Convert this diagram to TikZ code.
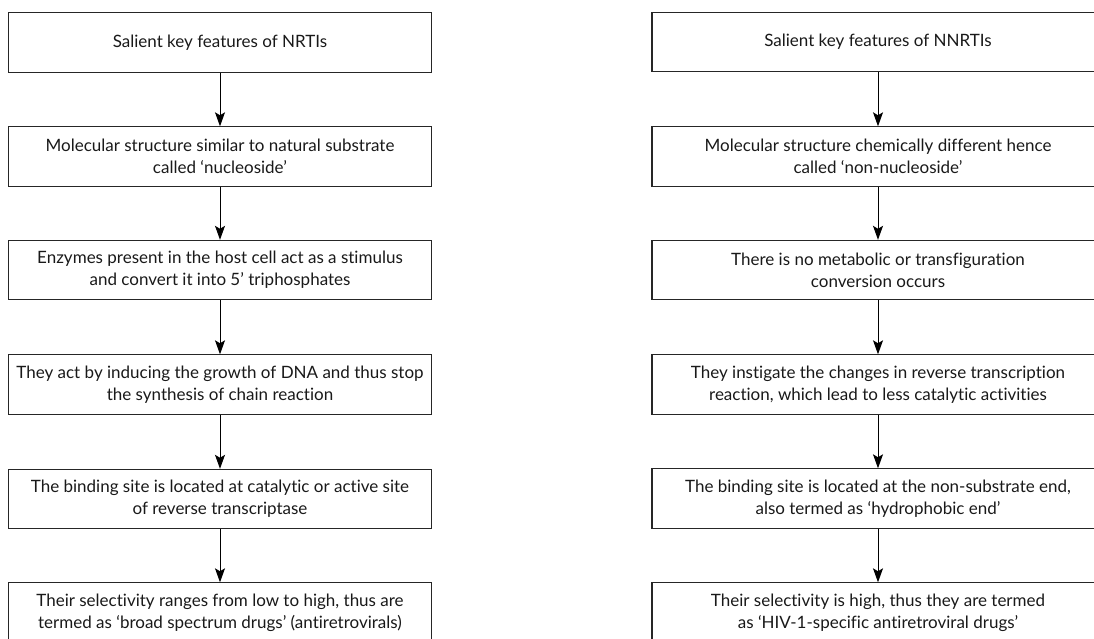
\documentclass[tikz,border=0pt]{standalone}
\usepackage{fontspec}
\setmainfont[Ligatures=NoCommon]{Lato}
\usetikzlibrary{arrows.meta}
\tikzset{
  fbox/.style={draw=black!85, line width=1.1pt, rectangle, align=center,
    minimum height=59.3pt, inner sep=0pt,
    font=\fontsize{17}{22}\selectfont, text=black!90},
  lbox/.style={fbox, minimum width=423pt},
  rbox/.style={fbox, minimum width=452pt},
  arr/.style={draw=black, line width=1pt, -{Stealth[length=14pt,width=10pt,inset=3pt]}}
}
\begin{document}
\begin{tikzpicture}[x=1pt,y=-1pt]
\useasboundingbox (0,0) rectangle (1094,639);
\clip (0,0) rectangle (1094,639);
% left column
\node[lbox] (l1) at (220,42.5) {Salient key features of NRTIs};
\node[lbox] (l2) at (220,156.5) {Molecular structure similar to natural substrate\\called ‘nucleoside’};
\node[lbox] (l3) at (220,270) {Enzymes present in the host cell act as a stimulus\\and convert it into 5’ triphosphates};
\node[lbox] (l4) at (220,384.5) {They act by inducing the growth of DNA and thus stop\\the synthesis of chain reaction};
\node[lbox] (l5) at (220,499) {The binding site is located at catalytic or active site\\of reverse transcriptase};
\node[lbox] (l6) at (220,612.5) {Their selectivity ranges from low to high, thus are\\termed as ‘broad spectrum drugs’ (antiretrovirals)};
% right column
\node[rbox] (r1) at (878,42) {Salient key features of NNRTIs};
\node[rbox] (r2) at (878,156.5) {Molecular structure chemically different hence\\called ‘non-nucleoside’};
\node[rbox] (r3) at (878,270) {There is no metabolic or transfiguration\\conversion occurs};
\node[rbox] (r4) at (878,384.5) {They instigate the changes in reverse transcription\\reaction, which lead to less catalytic activities};
\node[rbox] (r5) at (878,498.5) {The binding site is located at the non-substrate end,\\also termed as ‘hydrophobic end’};
\node[rbox] (r6) at (878,612.5) {Their selectivity is high, thus they are termed\\as ‘HIV-1-specific antiretroviral drugs’};
% arrows
\foreach \a/\b in {l1/l2,l2/l3,l3/l4,l4/l5,l5/l6,r1/r2,r2/r3,r3/r4,r4/r5,r5/r6}
  \draw[arr] (\a.south) -- (\a.south |- \b.north);
\end{tikzpicture}
\end{document}
